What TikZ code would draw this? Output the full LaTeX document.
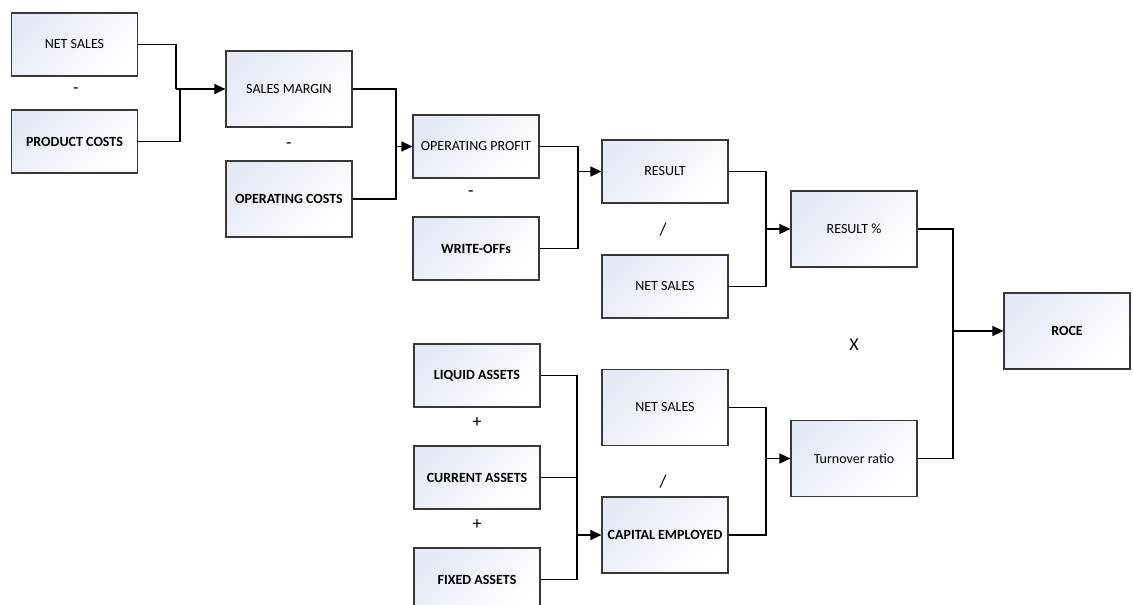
\documentclass[tikz,border=0pt]{standalone}
\usepackage{fontspec}
\setmainfont{Carlito}
\usetikzlibrary{arrows.meta}
\definecolor{boxtint}{HTML}{E4E9F5}
\definecolor{boxline}{HTML}{383838}
\tikzset{
  box/.style={draw=boxline, line width=1.2pt, shading=axis, top color=boxtint,
    bottom color=white, shading angle=45, minimum width=126pt,
    inner sep=0pt, font=\fontsize{14}{16}\selectfont},
  lowbox/.style={box, minimum height=63pt},
  tallbox/.style={box, minimum height=76pt},
  strong/.style={font=\fontsize{14}{16}\selectfont\bfseries},
  link/.style={draw=black, line width=1.4pt},
  feed/.style={link, -{Triangle[length=11pt,width=10pt]}},
  op/.style={font=\fontsize{18}{20}\selectfont}
}
\begin{document}
\begin{tikzpicture}[x=1pt,y=-1pt]
\useasboundingbox (0,0) rectangle (1133,605);
\begin{scope}
\clip (0,0) rectangle (1133,605);
% column 1
\node[lowbox] (ns1) at (74.5,44.5) {NET SALES};
\node[lowbox, strong] (pc) at (74.5,141.5) {PRODUCT COSTS};
% column 2
\node[tallbox] (sm) at (289,89) {SALES MARGIN};
\node[tallbox, strong] (oc) at (289,199) {OPERATING COSTS};
% column 3
\node[lowbox] (opr) at (476,146.5) {OPERATING PROFIT};
\node[lowbox, strong] (wo) at (476,248.5) {WRITE-OFFs};
\node[lowbox, strong] (la) at (477,375.5) {LIQUID ASSETS};
\node[lowbox, strong] (ca) at (477,477.5) {CURRENT ASSETS};
\node[lowbox, strong] (fa) at (477,579.5) {FIXED ASSETS};
% column 4
\node[lowbox] (res) at (665,171.5) {RESULT};
\node[lowbox] (ns2) at (665,286.5) {NET SALES};
\node[tallbox] (ns3) at (665,407.5) {NET SALES};
\node[tallbox, strong] (ce) at (665,535) {CAPITAL EMPLOYED};
% column 5
\node[tallbox] (rp) at (854,229) {RESULT \%};
\node[tallbox] (tr) at (854,458.5) {Turnover ratio};
% column 6
\node[tallbox, strong] (roce) at (1067,331) {ROCE};
\end{scope}

% operators between boxes
\node[op] (o1) at (76,91) {-};
\node[op] (o2) at (289,146) {-};
\node[op] (o3) at (471,194) {-};
\node[op] (o4) at (663,230) {/};
\node[op] (o5) at (663,482) {/};
\node[op] (o6) at (477,423) {+};
\node[op] (o7) at (477,525) {+};
\node[op] (o8) at (854,345) {X};

% junction points
\coordinate (j1) at (176,89);
\coordinate (j1b) at (180,89);
\coordinate (j2) at (396,146.5);
\coordinate (j3) at (578,171.5);
\coordinate (j4) at (766,229);
\coordinate (j5) at (766,458.5);
\coordinate (j6) at (577,535);
\coordinate (j7) at (953,331);

% connectors
\draw[link] (ns1.east) -| (j1);
\draw[link] (pc.east) -| (j1b);
\draw[feed] (j1) -- (sm.west);

\draw[link] (sm.east) -| (j2);
\draw[link] (oc.east) -| (j2);
\draw[feed] (j2) -- (opr.west);

\draw[link] (opr.east) -| (j3);
\draw[link] (wo.east) -| (j3);
\draw[feed] (j3) -- (res.west);

\draw[link] (res.east) -| (j4);
\draw[link] (ns2.east) -| (j4);
\draw[feed] (j4) -- (rp.west);

\draw[link] (la.east) -| (j6);
\draw[link] (ca.east) -| (j6);
\draw[link] (fa.east) -| (j6);
\draw[feed] (j6) -- (ce.west);

\draw[link] (ns3.east) -| (j5);
\draw[link] (ce.east) -| (j5);
\draw[feed] (j5) -- (tr.west);

\draw[link] (rp.east) -| (j7);
\draw[link] (tr.east) -| (j7);
\draw[feed] (j7) -- (roce.west);
\end{tikzpicture}
\end{document}
